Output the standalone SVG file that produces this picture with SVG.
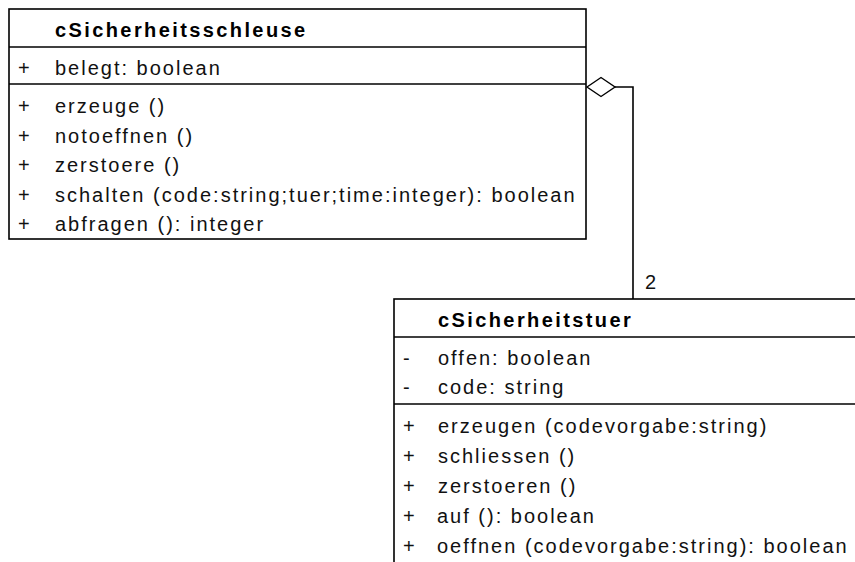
<svg xmlns="http://www.w3.org/2000/svg" width="855" height="562" viewBox="0 0 855 562">
<style>
  .box { fill: #ffffff; stroke: #000000; stroke-width: 1.6; }
  .sep { stroke: #000000; stroke-width: 1.6; }
  .t { font-family: "Liberation Sans", Arial, sans-serif; font-size: 20px; fill: #111111; letter-spacing: 2px; }
  .title { font-family: "Liberation Sans", Arial, sans-serif; font-size: 20px; font-weight: bold; fill: #000000; letter-spacing: 2.4px; }
  .conn { fill: none; stroke: #000000; stroke-width: 1.6; }
  .diamond { fill: #ffffff; stroke: #000000; stroke-width: 1.4; }
</style>
<rect width="855" height="562" fill="#ffffff"/>

<g id="connectors">
  <polyline class="conn" points="615,87 633,87 633,299"/>
  <polygon class="diamond" points="587,87 601,77.5 615,87 601,96.5"/>
  <text class="t" x="645" y="289">2</text>
</g>

<g id="cSicherheitsschleuse">
  <rect class="box" x="9" y="9" width="577" height="230"/>
  <line class="sep" x1="9" y1="47" x2="586" y2="47"/>
  <line class="sep" x1="9" y1="84" x2="586" y2="84"/>
  <text class="title" x="55" y="37">cSicherheitsschleuse</text>
  <text class="t" x="18" y="75">+</text>
  <text class="t" x="55" y="75">belegt: boolean</text>
  <text class="t" x="18" y="113">+</text>
  <text class="t" x="55" y="113">erzeuge ()</text>
  <text class="t" x="18" y="142.5">+</text>
  <text class="t" x="55" y="142.5">notoeffnen ()</text>
  <text class="t" x="18" y="172">+</text>
  <text class="t" x="55" y="172">zerstoere ()</text>
  <text class="t" x="18" y="201.5">+</text>
  <text class="t" x="55" y="201.5">schalten (code:string;tuer;time:integer): boolean</text>
  <text class="t" x="18" y="231">+</text>
  <text class="t" x="55" y="231">abfragen (): integer</text>
</g>

<g id="cSicherheitstuer">
  <rect class="box" x="394" y="299" width="480" height="290"/>
  <line class="sep" x1="394" y1="337" x2="874" y2="337"/>
  <line class="sep" x1="394" y1="404" x2="874" y2="404"/>
  <text class="title" x="438" y="327">cSicherheitstuer</text>
  <text class="t" x="403" y="365">-</text>
  <text class="t" x="438" y="365">offen: boolean</text>
  <text class="t" x="403" y="394">-</text>
  <text class="t" x="438" y="394">code: string</text>
  <text class="t" x="403" y="433">+</text>
  <text class="t" x="438" y="433">erzeugen (codevorgabe:string)</text>
  <text class="t" x="403" y="463">+</text>
  <text class="t" x="438" y="463">schliessen ()</text>
  <text class="t" x="403" y="493">+</text>
  <text class="t" x="438" y="493">zerstoeren ()</text>
  <text class="t" x="403" y="523">+</text>
  <text class="t" x="437" y="523">auf (): boolean</text>
  <text class="t" x="403" y="553">+</text>
  <text class="t" x="437" y="553">oeffnen (codevorgabe:string): boolean</text>
</g>
</svg>
